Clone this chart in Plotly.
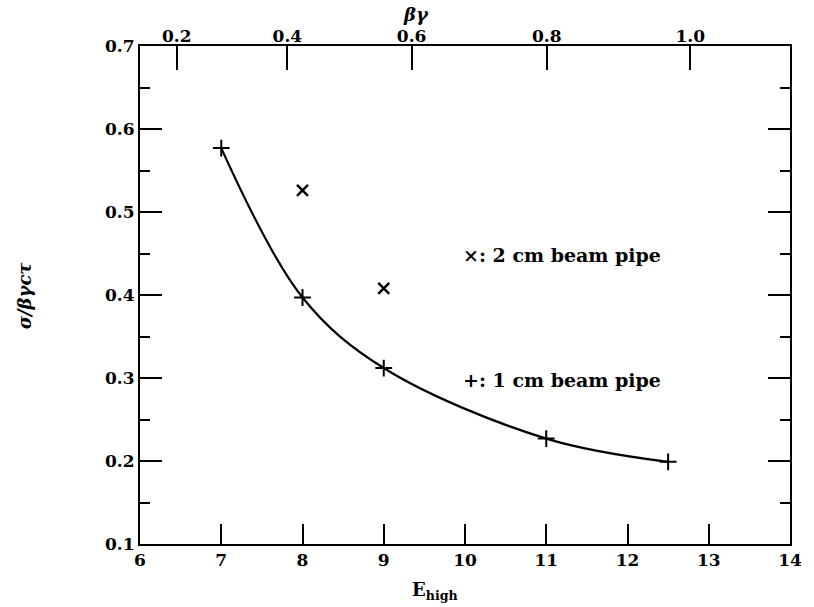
import numpy as np
import plotly.graph_objects as go

# Resolution sigma/(beta*gamma*c*tau) versus high-energy beam energy
e_high_1cm = [7.0, 8.0, 9.0, 11.0, 12.5]
res_1cm = [0.577, 0.397, 0.312, 0.227, 0.199]

e_high_2cm = [8.0, 9.0]
res_2cm = [0.526, 0.408]

# Boost labels for the top axis and the CM energy used to convert them to E_high
beta_gamma_ticks = [0.2, 0.4, 0.6, 0.8, 1.0]
beta_gamma_text = ["0.2", "0.4", "0.6", "0.8", "1.0"]
sqrt_s = 10.58

x_ticks = list(range(6, 15))
y_ticks = [0.1, 0.2, 0.3, 0.4, 0.5, 0.6, 0.7]

FONT = "DejaVu Serif"
INK = "black"

# E_high for a given beta*gamma in a symmetric-collision CM frame at sqrt(s)
bg = np.array(beta_gamma_ticks)
e_at_bg = sqrt_s * (bg + np.sqrt(bg ** 2 + 1.0)) / 2.0

fig = go.Figure()

fig.add_trace(go.Scatter(
    x=e_high_1cm, y=res_1cm, mode="lines",
    line=dict(color=INK, width=2.2, shape="spline", smoothing=1.0),
    hoverinfo="skip", showlegend=False,
))
fig.add_trace(go.Scatter(
    x=e_high_1cm, y=res_1cm, mode="markers",
    marker=dict(symbol="cross-thin-open", size=12, color=INK,
                line=dict(color=INK, width=2)),
    showlegend=False,
))
fig.add_trace(go.Scatter(
    x=e_high_2cm, y=res_2cm, mode="markers",
    marker=dict(symbol="x-thin-open", size=11, color=INK,
                line=dict(color=INK, width=2.4)),
    showlegend=False,
))
# invisible trace to activate the top axis
fig.add_trace(go.Scatter(
    x=[6, 14], y=[0.1, 0.1], xaxis="x2", mode="markers",
    marker=dict(opacity=0), hoverinfo="skip", showlegend=False,
))

tick_font = dict(family=FONT, size=17, color=INK, weight="bold")
label_font = dict(family=FONT, size=18, color=INK, weight="bold")
note_font = dict(family=FONT, size=19, color=INK, weight="bold")

fig.update_layout(
    width=814, height=607,
    margin=dict(l=140, r=20, t=46, b=63),
    paper_bgcolor="white", plot_bgcolor="white",
    font=dict(family=FONT, color=INK),
    xaxis=dict(
        range=[6, 14], tickvals=x_ticks, ticktext=[str(v) for v in x_ticks],
        ticks="inside", ticklen=20, tickwidth=2, tickcolor=INK,
        showline=True, linewidth=2, linecolor=INK, mirror=True,
        showgrid=False, zeroline=False, tickfont=tick_font,
    ),
    xaxis2=dict(
        range=[6, 14], overlaying="x", side="top", anchor="y",
        tickvals=list(e_at_bg), ticktext=beta_gamma_text,
        ticks="inside", ticklen=24, tickwidth=2, tickcolor=INK,
        showline=False, showgrid=False, zeroline=False, tickfont=tick_font,
    ),
    yaxis=dict(
        range=[0.1, 0.7], tickvals=y_ticks, ticktext=["%.1f" % v for v in y_ticks],
        ticks="inside", ticklen=22, tickwidth=2, tickcolor=INK,
        minor=dict(ticks="inside", ticklen=10, tickwidth=2, tickcolor=INK, dtick=0.05, tick0=0.1),
        showline=True, linewidth=2, linecolor=INK, mirror="ticks",
        showgrid=False, zeroline=False, tickfont=tick_font,
    ),
    annotations=[
        dict(text="×: 2 cm beam pipe", x=9.95, y=0.448, xref="x", yref="y",
             xanchor="left", yanchor="middle", showarrow=False, font=note_font),
        dict(text="+: 1 cm beam pipe", x=9.95, y=0.298, xref="x", yref="y",
             xanchor="left", yanchor="middle", showarrow=False, font=note_font),
        dict(text="<i>σ/βγcτ</i>", x=-0.178, y=0.5, xref="paper", yref="paper",
             textangle=-90, xanchor="center", yanchor="middle", showarrow=False,
             font=label_font),
        dict(text="E<sub>high</sub>", x=0.454, y=-0.094, xref="paper", yref="paper",
             xanchor="center", yanchor="middle", showarrow=False, font=label_font),
        dict(text="<i>βγ</i>", x=0.425, y=1.064, xref="paper", yref="paper",
             xanchor="center", yanchor="middle", showarrow=False, font=label_font),
    ],
)

fig.write_html("out.html")
